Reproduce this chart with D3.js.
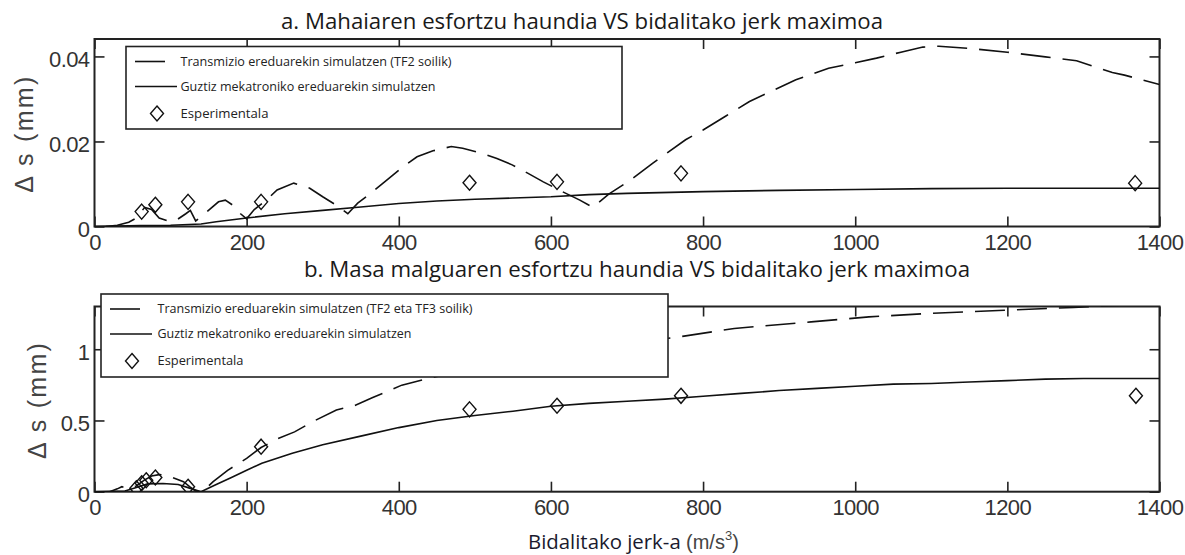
<!DOCTYPE html>
<html>
<head>
<meta charset="utf-8">
<script src="https://cdn.jsdelivr.net/npm/d3@7"></script>
<style>
  body { margin: 0; background: #fff; }
  svg { display: block; }
</style>
</head>
<body>
<div class="chart-container"></div>
<script>
// shared x axis (bidalitako jerk-a, m/s^3)
const jerkTicks = [0, 200, 400, 600, 800, 1000, 1200, 1400];

// a. mahaia
const dsTicksA = [0, 0.02, 0.04];
const jerkTransA = [15, 30, 45, 55, 66, 75, 85, 95, 106, 120, 126, 133, 148, 163, 172, 182, 192, 200, 210, 226,
  240, 262, 283, 300, 318, 333, 346, 361, 385, 406, 424, 445, 469, 484, 510, 529, 549, 570, 590, 615,
  638, 655, 676, 705, 734, 777, 800, 830, 861, 892, 922, 965, 1000, 1028, 1060, 1089, 1110, 1150, 1200, 1250,
  1291, 1338, 1354, 1400];
const dsTransA = [0, 0.0003, 0.001, 0.002, 0.0045, 0.004, 0.002, 0.0014, 0.0013, 0.003, 0.0038, 0.0013, 0.0035, 0.0058, 0.0062, 0.005, 0.003, 0.0018, 0.004, 0.0062,
  0.0086, 0.0102, 0.009, 0.007, 0.005, 0.003, 0.0055, 0.0075, 0.011, 0.0141, 0.0164, 0.0178, 0.0188, 0.0184, 0.0172, 0.016, 0.0145, 0.0125, 0.0105, 0.0082,
  0.0062, 0.0045, 0.0076, 0.011, 0.0149, 0.0204, 0.0227, 0.026, 0.0294, 0.032, 0.0345, 0.0372, 0.0385, 0.0396, 0.041, 0.0422, 0.0424, 0.0419, 0.041, 0.0399,
  0.039, 0.0362, 0.0356, 0.0334];
const jerkMechA = [0, 60, 100, 140, 160, 200, 250, 300, 350, 400, 450, 500, 550, 600, 650, 700, 800, 900, 1000, 1100, 1200, 1400];
const dsMechA = [0, 0.0002, 0.0003, 0.0006, 0.0011, 0.002, 0.003, 0.0038, 0.0046, 0.0054, 0.006, 0.0064, 0.0067, 0.007, 0.0075, 0.0078, 0.0082, 0.0085, 0.0087, 0.0089, 0.009, 0.009];
const jerkExpA = [62, 80, 123, 219, 493, 608, 771, 1368];
const dsExpA = [0.0035, 0.0051, 0.0058, 0.0058, 0.0103, 0.0105, 0.0125, 0.0102];

// b. masa malgua
const dsTicksB = [0, 0.5, 1];
const jerkTransB = [0, 20, 30, 36, 45, 55, 65, 75, 85, 95, 105, 117, 125, 133, 141, 150, 156, 175, 200, 219,
  240, 263, 290, 318, 343, 365, 389, 404, 439, 500, 600, 700, 752, 775, 841, 942, 1018, 1095, 1196, 1287,
  1350, 1400];
const dsTransB = [0, 0, 0.02, 0.035, 0.02, 0.04, 0.08, 0.11, 0.12, 0.115, 0.095, 0.07, 0.035, 0.005, 0, 0.04, 0.07, 0.15, 0.234, 0.31,
  0.37, 0.42, 0.5, 0.573, 0.607, 0.66, 0.713, 0.748, 0.795, 0.87, 0.97, 1.04, 1.075, 1.092, 1.146, 1.192, 1.227, 1.251, 1.274, 1.293,
  1.31, 1.32];
const jerkMechB = [0, 40, 55, 70, 90, 110, 125, 140, 160, 180, 200, 220, 260, 300, 350, 400, 450, 500, 550, 600,
  650, 700, 750, 800, 850, 900, 950, 1000, 1050, 1100, 1150, 1200, 1250, 1300, 1400];
const dsMechB = [0, 0.005, 0.03, 0.055, 0.058, 0.05, 0.025, 0, 0.05, 0.1, 0.15, 0.2, 0.27, 0.33, 0.39, 0.45, 0.5, 0.535, 0.565, 0.6,
  0.62, 0.635, 0.65, 0.67, 0.69, 0.71, 0.725, 0.74, 0.755, 0.76, 0.77, 0.78, 0.79, 0.795, 0.795];
const jerkExpB = [55, 62, 68, 80, 123, 219, 493, 608, 771, 1369];
const dsExpB = [0.024, 0.059, 0.08, 0.10, 0.035, 0.316, 0.578, 0.603, 0.673, 0.673];

const legendA = ['Transmizio ereduarekin simulatzen (TF2 soilik)', 'Guztiz mekatroniko ereduarekin simulatzen', 'Esperimentala'];
const legendB = ['Transmizio ereduarekin simulatzen (TF2 eta TF3 soilik)', 'Guztiz mekatroniko ereduarekin simulatzen', 'Esperimentala'];

const width = 1185;
const height = 555;
const left = 94.5;
const right = 1159.5;

const svg = d3.select('.chart-container')
  .append('svg')
  .attr('width', width)
  .attr('height', height);

const x = d3.scaleLinear().domain([0, 1400]).range([left, right]);
const diamond = 'M0,-7.5L6.5,0L0,7.5L-6.5,0Z';
const ink = '#111';

function drawPanel(p) {
  const y = d3.scaleLinear().domain([0, p.yMax]).range([p.bottom, p.top]);
  const g = svg.append('g');

  g.append('clipPath').attr('id', p.id)
    .append('rect')
    .attr('x', left).attr('y', p.top)
    .attr('width', right - left).attr('height', p.bottom - p.top);

  // title
  g.append('text')
    .attr('x', p.titleX).attr('y', p.titleY)
    .attr('text-anchor', 'middle')
    .attr('textLength', p.titleLen)
    .attr('lengthAdjust', 'spacingAndGlyphs')
    .style('font-family', 'Open Sans, sans-serif')
    .style('font-size', '21px')
    .style('fill', '#1a1a1a')
    .text(p.title);

  // ticks inward on all four sides
  const tickStyle = sel => {
    sel.select('.domain').remove();
    sel.selectAll('.tick line').attr('stroke', '#222').attr('stroke-width', 1.6);
    sel.selectAll('.tick text')
      .style('font-family', 'Liberation Sans, Arial, sans-serif')
      .style('font-size', '22px')
      .style('letter-spacing', '-0.6px')
      .style('fill', '#333');
  };
  g.append('g').attr('transform', `translate(0,${p.bottom})`)
    .call(d3.axisBottom(x).tickValues(jerkTicks).tickSize(-10).tickPadding(8).tickFormat(d => String(d)))
    .call(tickStyle);
  g.append('g').attr('transform', `translate(0,${p.top})`)
    .call(d3.axisTop(x).tickValues(jerkTicks).tickSize(-10).tickFormat(''))
    .call(tickStyle);
  g.append('g').attr('transform', `translate(${left},0)`)
    .call(d3.axisLeft(y).tickValues(p.yTicks).tickSize(-10).tickPadding(5).tickFormat(d => String(d)))
    .call(tickStyle)
    .selectAll('.tick text').attr('dy', '0.45em');
  g.append('g').attr('transform', `translate(${right},0)`)
    .call(d3.axisRight(y).tickValues(p.yTicks).tickSize(-10).tickFormat(''))
    .call(tickStyle);

  g.append('rect')
    .attr('x', left).attr('y', p.top)
    .attr('width', right - left).attr('height', p.bottom - p.top)
    .attr('fill', 'none').attr('stroke', '#222').attr('stroke-width', 2);

  // y label
  g.append('text')
    .attr('transform', `translate(${p.yLabelX},${(p.top + p.bottom) / 2 + 2}) rotate(-90)`)
    .attr('text-anchor', 'middle')
    .attr('textLength', 116)
    .style('font-family', 'Liberation Sans, Arial, sans-serif')
    .style('font-size', '25px')
    .style('fill', '#444')
    .text('Δ s (mm)');

  const line = d3.line().x(d => x(d[0])).y(d => y(d[1]));
  const plot = g.append('g').attr('clip-path', `url(#${p.id})`);

  plot.append('path')
    .datum(d3.zip(p.jerkMech, p.dsMech))
    .attr('d', line)
    .attr('fill', 'none').attr('stroke', ink).attr('stroke-width', 1.6);

  plot.append('path')
    .datum(d3.zip(p.jerkTrans, p.dsTrans))
    .attr('d', line)
    .attr('fill', 'none').attr('stroke', ink).attr('stroke-width', 1.6)
    .attr('stroke-dasharray', '30,12');

  plot.selectAll('.exp')
    .data(d3.zip(p.jerkExp, p.dsExp))
    .enter()
    .append('path')
    .attr('class', 'exp')
    .attr('d', diamond)
    .attr('transform', d => `translate(${x(d[0])},${y(d[1])})`)
    .attr('fill', 'none').attr('stroke', ink).attr('stroke-width', 1.4);

  // legend
  const L = p.legend;
  const lg = g.append('g');
  lg.append('rect')
    .attr('x', L.x).attr('y', L.y).attr('width', L.w).attr('height', L.h)
    .attr('fill', '#fff').attr('stroke', '#222').attr('stroke-width', 1.6);
  const rows = [L.y + 15, L.y + 40, L.y + 67];
  lg.append('line')
    .attr('x1', L.x + 9).attr('x2', L.x + 43).attr('y1', rows[0]).attr('y2', rows[0])
    .attr('stroke', ink).attr('stroke-width', 1.6).attr('stroke-dasharray', '30,12');
  lg.append('line')
    .attr('x1', L.x + 9).attr('x2', L.x + 51).attr('y1', rows[1]).attr('y2', rows[1])
    .attr('stroke', ink).attr('stroke-width', 1.6);
  lg.append('path')
    .attr('d', diamond)
    .attr('transform', `translate(${L.x + 31},${rows[2]})`)
    .attr('fill', 'none').attr('stroke', ink).attr('stroke-width', 1.4);
  lg.selectAll('.lt')
    .data(p.legendText)
    .enter()
    .append('text')
    .attr('x', L.tx)
    .attr('y', (d, i) => rows[i])
    .attr('dy', '0.35em')
    .attr('textLength', (d, i) => L.lens[i])
    .attr('lengthAdjust', 'spacingAndGlyphs')
    .style('font-family', 'Open Sans, sans-serif')
    .style('font-size', '12px')
    .style('fill', '#222')
    .text(d => d);
}

drawPanel({
  id: 'clipA', top: 39, bottom: 226.5, yMax: 0.0441, yTicks: dsTicksA,
  title: 'a. Mahaiaren esfortzu haundia VS bidalitako jerk maximoa',
  titleX: 582, titleY: 29, titleLen: 602, yLabelX: 33,
  jerkTrans: jerkTransA, dsTrans: dsTransA, jerkMech: jerkMechA, dsMech: dsMechA,
  jerkExp: jerkExpA, dsExp: dsExpA,
  legendText: legendA,
  legend: { x: 126, y: 46.5, w: 496, h: 82.5, tx: 180.5, lens: [271, 255, 88] }
});

drawPanel({
  id: 'clipB', top: 306.5, bottom: 491.7, yMax: 1.3, yTicks: dsTicksB,
  title: 'b. Masa malguaren esfortzu haundia VS bidalitako jerk maximoa',
  titleX: 637, titleY: 277, titleLen: 666, yLabelX: 46,
  jerkTrans: jerkTransB, dsTrans: dsTransB, jerkMech: jerkMechB, dsMech: dsMechB,
  jerkExp: jerkExpB, dsExp: dsExpB,
  legendText: legendB,
  legend: { x: 101, y: 294, w: 567, h: 83, tx: 157.5, lens: [315, 254, 86] }
});

// x label
const xl = svg.append('text')
  .attr('x', 528)
  .attr('y', 549)
  .style('font-family', 'Open Sans, sans-serif')
  .style('font-size', '20px')
  .style('fill', '#1a1a2e');
xl.append('tspan').attr('textLength', 158).attr('lengthAdjust', 'spacingAndGlyphs').text('Bidalitako jerk-a ');
xl.append('tspan')
  .style('font-family', 'Liberation Sans, Arial, sans-serif')
  .style('fill', '#444')
  .text('(m/s');
xl.append('tspan')
  .attr('dy', -9)
  .style('font-family', 'Liberation Sans, Arial, sans-serif')
  .style('font-size', '13px')
  .style('fill', '#444')
  .text('3');
xl.append('tspan')
  .attr('dy', 9)
  .style('font-family', 'Liberation Sans, Arial, sans-serif')
  .style('fill', '#444')
  .text(')');
</script>
</body>
</html>
